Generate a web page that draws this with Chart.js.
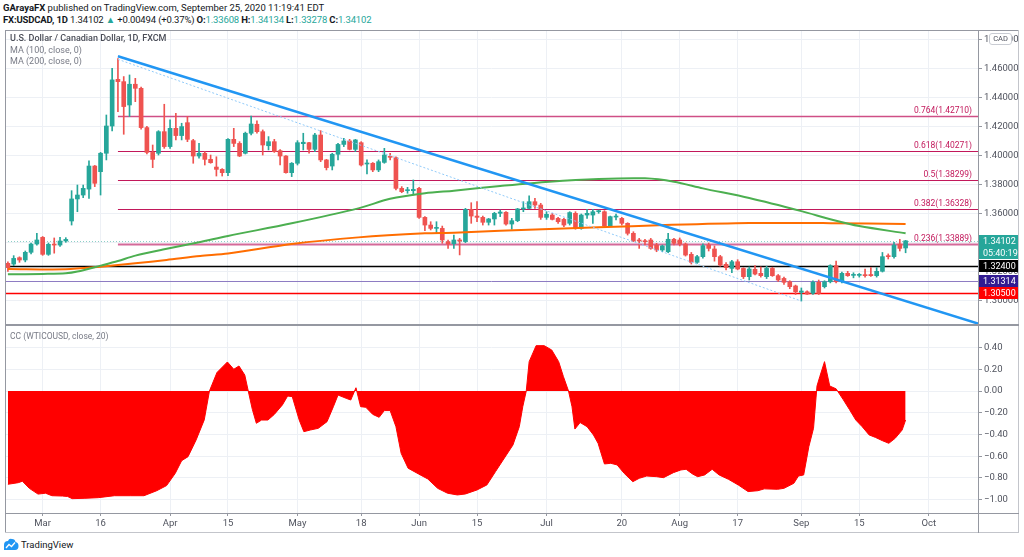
<!DOCTYPE html>
<html>
<head>
<meta charset="utf-8">
<script src="https://cdn.jsdelivr.net/npm/chart.js@4.4.0/dist/chart.umd.min.js"></script>
<style>
  body { margin: 0; background: #fff; width: 1024px; height: 557px; overflow: hidden; position: relative; font-family: Roboto, "Noto Sans", sans-serif; }
  .abs { position: absolute; white-space: nowrap; }
  .ln { position: absolute; background: #9598a1; pointer-events: none; }
  .hdr { font-size: 9.5px; color: #131722; left: 3px; }
  .teal { color: #26a69a; }
  .leg { left: 10px; font-size: 9px; color: #787b86; }
</style>
</head>
<body>
<div class="abs hdr" style="top:2px"><b>GArayaFX</b> published on TradingView.com, September 25, 2020 11:19:41 EDT</div>
<div class="abs hdr" style="top:14px;letter-spacing:-0.15px"><b>FX:USDCAD, 1D</b> 1.34102 <span class="teal">&#9650;</span> +0.00494 (+0.37%) <b>O:</b><span class="teal">1.33608</span> <b>H:</b><span class="teal">1.34134</span> <b>L:</b><span class="teal">1.33278</span> <b>C:</b><span class="teal">1.34102</span></div>

<canvas id="price" class="abs" style="left:5px;top:30px" width="1014" height="295"></canvas>
<canvas id="cc" class="abs" style="left:5px;top:325px" width="1014" height="208"></canvas>

<div class="abs leg" style="top:33px;color:#4a4d57;font-weight:500">U.S. Dollar / Canadian Dollar, 1D, FXCM</div>
<div class="abs leg" style="top:45px">MA (100, close, 0)</div>
<div class="abs leg" style="top:56px">MA (200, close, 0)</div>
<div class="abs leg" style="top:331px;font-size:8.5px">CC (WTICOUSD, close, 20)</div>
<div class="abs" style="left:989px;top:33px;width:21px;height:10px;border:1px solid #c9ccd3;border-radius:3px;background:#fff;font-size:7.5px;line-height:10px;text-align:center;color:#50535e">CAD</div>

<div class="ln" style="left:5px;top:30px;width:1014px;height:1px"></div>
<div class="ln" style="left:5px;top:30px;width:1px;height:503px"></div>
<div class="ln" style="left:1018px;top:30px;width:1px;height:503px;background:#c3c5cb"></div>
<div class="ln" style="left:5px;top:324px;width:1014px;height:2px"></div>
<div class="ln" style="left:5px;top:513px;width:1014px;height:1px"></div>
<div class="ln" style="left:5px;top:532px;width:1014px;height:1px;background:#c3c5cb"></div>
<div class="ln" style="left:978px;top:30px;width:1px;height:503px"></div>

<svg class="abs" style="left:3px;top:538px" width="16" height="13" viewBox="0 0 16 13">
  <path d="M1 12 L1 7 Q1 3 5 3 Q6 0 9 1 Q12 1 12.5 4 Q15.5 4.5 15.5 8 Q15.5 12 12 12 Z" fill="#2196f3"/>
  <path d="M3 10 L6 6.5 L8.5 8.5 L12 4.5" stroke="#fff" stroke-width="1.3" fill="none"/>
</svg>
<div class="abs" style="left:21px;top:539px;font-size:9.5px;color:#131722">TradingView</div>

<script>
// daily candles, first bar is index -6 (Feb 21), index 0 = Mar 2, last = Sep 25
const firstIndex = -6;
const openP = [
  1.3255,1.3250,1.3294,1.3278,1.3331,1.3388,1.3434,1.3317,1.3388,1.3381,
  1.3409,1.3547,1.3699,1.3726,1.3767,1.3926,1.3887,1.4014,1.4202,1.4524,
  1.4508,1.4347,1.4490,1.4462,1.4191,1.4020,1.4014,1.4163,1.4060,1.4186,
  1.4136,1.4225,1.4101,1.3995,1.4014,1.3972,1.3919,1.3903,1.3880,1.4110,
  1.4082,1.4014,1.4152,1.4214,1.4163,1.4066,1.4094,1.4032,1.3995,1.3880,
  1.3945,1.4080,1.4087,1.4041,1.4140,1.3968,1.3926,1.4007,1.4075,1.4099,
  1.4041,1.4087,1.3940,1.3945,1.3899,1.3951,1.3991,1.3984,1.3772,1.3756,
  1.3756,1.3772,1.3572,1.3519,1.3496,1.3496,1.3404,1.3390,1.3416,1.3405,
  1.3627,1.3581,1.3572,1.3538,1.3561,1.3600,1.3607,1.3526,1.3549,1.3630,
  1.3634,1.3680,1.3657,1.3572,1.3588,1.3565,1.3558,1.3531,1.3600,1.3496,
  1.3588,1.3588,1.3611,1.3611,1.3513,1.3574,1.3565,1.3531,1.3462,1.3416,
  1.3411,1.3416,1.3381,1.3347,1.3335,1.3421,1.3416,1.3388,1.3317,1.3262,
  1.3301,1.3381,1.3354,1.3301,1.3248,1.3220,1.3266,1.3220,1.3163,1.3214,
  1.3186,1.3163,1.3220,1.3170,1.3151,1.3128,1.3099,1.3055,1.3059,1.3048,
  1.3124,1.3094,1.3128,1.3239,1.3128,1.3186,1.3172,1.3172,1.3176,1.3178,
  1.3170,1.3200,1.3305,1.3301,1.3388,1.33608
];
const highP = [
  1.3266,1.3308,1.3300,1.3340,1.3395,1.3462,1.3440,1.3395,1.3430,1.3434,
  1.3432,1.3756,1.3795,1.3795,1.3961,1.3930,1.4020,1.4278,1.4600,1.4667,
  1.4543,1.4554,1.4531,1.4470,1.4200,1.4071,1.4170,1.4352,1.4244,1.4290,
  1.4221,1.4267,1.4110,1.4083,1.4025,1.4002,1.3990,1.3908,1.4115,1.4186,
  1.4094,1.4160,1.4271,1.4237,1.4175,1.4129,1.4110,1.4040,1.3998,1.3950,
  1.4101,1.4152,1.4090,1.4152,1.4170,1.3972,1.4014,1.4083,1.4117,1.4110,
  1.4110,1.4094,1.3968,1.3950,1.3968,1.4048,1.4014,1.3990,1.3784,1.3779,
  1.3830,1.3779,1.3577,1.3542,1.3542,1.3512,1.3416,1.3450,1.3427,1.3634,
  1.3673,1.3680,1.3581,1.3565,1.3607,1.3623,1.3612,1.3565,1.3634,1.3680,
  1.3720,1.3703,1.3669,1.3611,1.3600,1.3572,1.3565,1.3611,1.3611,1.3595,
  1.3627,1.3627,1.3623,1.3618,1.3581,1.3595,1.3572,1.3535,1.3473,1.3427,
  1.3420,1.3427,1.3393,1.3381,1.3462,1.3427,1.3430,1.3395,1.3330,1.3310,
  1.3390,1.3395,1.3375,1.3310,1.3260,1.3275,1.3280,1.3225,1.3230,1.3240,
  1.3230,1.3235,1.3228,1.3178,1.3160,1.3135,1.3105,1.3085,1.3065,1.3135,
  1.3140,1.3135,1.3245,1.3270,1.3195,1.3200,1.3190,1.3185,1.3215,1.3225,
  1.3225,1.3330,1.3320,1.3400,1.3420,1.34134
];
const lowP = [
  1.3200,1.3239,1.3262,1.3265,1.3320,1.3380,1.3310,1.3310,1.3325,1.3372,
  1.3400,1.3519,1.3611,1.3708,1.3703,1.3784,1.3726,1.3968,1.4168,1.4301,
  1.4145,1.4267,1.4370,1.4180,1.4010,1.3915,1.4002,1.4048,1.4048,1.4106,
  1.4106,1.4094,1.3945,1.3980,1.3933,1.3945,1.3857,1.3857,1.3860,1.4060,
  1.3991,1.4009,1.4140,1.4152,1.4002,1.4037,1.4020,1.3933,1.3876,1.3853,
  1.3933,1.4037,1.4014,1.4025,1.3956,1.3899,1.3899,1.3968,1.4060,1.4037,
  1.4025,1.3926,1.3871,1.3887,1.3887,1.3945,1.3968,1.3761,1.3742,1.3738,
  1.3726,1.3565,1.3480,1.3485,1.3462,1.3393,1.3358,1.3358,1.3313,1.3398,
  1.3531,1.3542,1.3519,1.3519,1.3519,1.3577,1.3519,1.3490,1.3542,1.3611,
  1.3630,1.3634,1.3558,1.3558,1.3554,1.3531,1.3508,1.3519,1.3490,1.3490,
  1.3565,1.3531,1.3600,1.3508,1.3508,1.3554,1.3519,1.3450,1.3405,1.3358,
  1.3382,1.3352,1.3335,1.3335,1.3329,1.3382,1.3375,1.3305,1.3250,1.3255,
  1.3290,1.3340,1.3270,1.3235,1.3210,1.3190,1.3210,1.3150,1.3140,1.3175,
  1.3160,1.3150,1.3165,1.3130,1.3110,1.3080,1.3040,1.2995,1.3040,1.3040,
  1.3040,1.3085,1.3120,1.3120,1.3120,1.3165,1.3155,1.3160,1.3160,1.3165,
  1.3160,1.3195,1.3285,1.3290,1.3340,1.33278
];
const closeP = [
  1.3225,1.3289,1.3278,1.3331,1.3388,1.3416,1.3317,1.3386,1.3381,1.3409,
  1.3420,1.3699,1.3726,1.3772,1.3926,1.3807,1.4014,1.4202,1.4520,1.4508,
  1.4336,1.4490,1.4462,1.4191,1.4020,1.3972,1.4163,1.4060,1.4186,1.4136,
  1.4198,1.4110,1.3995,1.4014,1.3972,1.3949,1.3903,1.3880,1.4110,1.4082,
  1.3995,1.4152,1.4216,1.4163,1.4071,1.4094,1.4025,1.3995,1.3880,1.3945,
  1.4087,1.4090,1.4041,1.4140,1.3968,1.3915,1.4007,1.4075,1.4099,1.4041,
  1.4106,1.3933,1.3945,1.3899,1.3956,1.4002,1.3986,1.3772,1.3749,1.3761,
  1.3765,1.3572,1.3519,1.3496,1.3501,1.3416,1.3388,1.3416,1.3409,1.3627,
  1.3581,1.3572,1.3538,1.3561,1.3600,1.3609,1.3526,1.3549,1.3630,1.3634,
  1.3680,1.3657,1.3572,1.3593,1.3558,1.3542,1.3519,1.3605,1.3496,1.3588,
  1.3600,1.3611,1.3616,1.3513,1.3577,1.3577,1.3531,1.3462,1.3409,1.3409,
  1.3404,1.3358,1.3347,1.3375,1.3421,1.3393,1.3388,1.3312,1.3262,1.3301,
  1.3377,1.3358,1.3301,1.3243,1.3225,1.3266,1.3216,1.3163,1.3216,1.3181,
  1.3170,1.3220,1.3170,1.3140,1.3124,1.3094,1.3059,1.3064,1.3043,1.3124,
  1.3048,1.3128,1.3239,1.3128,1.3186,1.3170,1.3176,1.3176,1.3170,1.3170,
  1.3200,1.3301,1.3301,1.3381,1.3358,1.34102
];

// moving averages (bar index, value)
const ma100X = [-6, 0, 4, 6, 10, 13, 16, 21, 27, 32, 43, 54.5, 60, 66, 71, 79, 87.5, 96, 104, 109, 114, 122, 131, 136.5, 141, 149];
const ma100Y = [1.3179, 1.3182, 1.3186, 1.3198, 1.3239, 1.3271, 1.3308, 1.3352, 1.3400, 1.3444, 1.3531, 1.3634, 1.3700, 1.3738, 1.3756, 1.3788, 1.3818, 1.3837, 1.3841, 1.3818, 1.3772, 1.3705, 1.3615, 1.3554, 1.3512, 1.3462];
const ma200X = [-6, 4, 10, 16, 21.4, 27.2, 32, 43, 54.5, 66, 71, 79, 96, 107.5, 122, 136, 149];
const ma200Y = [1.3216, 1.3214, 1.3232, 1.3255, 1.3278, 1.3305, 1.3322, 1.3388, 1.3434, 1.3462, 1.3466, 1.3480, 1.3503, 1.3519, 1.3533, 1.3532, 1.3526];

// drawings
const trendX = [13, 161.5];
const trendY = [1.4683, 1.2840];
const trend2X = [13, 131];
const trend2Y = [1.4662, 1.2995];
const fibStart = 13;
const fibRatios = ['0.764', '0.618', '0.5', '0.382', '0.236'];
const fibValues = [1.42710, 1.40271, 1.38299, 1.36328, 1.33889];
const levelValues = [1.32400, 1.31314, 1.30500];
const lastPrice = 1.34102;
const countdown = '05:40:19';

// oscillator CC (WTICOUSD, close, 20)
const ccX = [-6,-4.2,-3.5,-2.3,-0.8,0.5,1.6,3.4,4.3,5.1,7.3,9.6,12.4,15.2,17.5,19.7,21.4,22.9,24,25.1,
  26.5,27.9,28.8,30.1,31.9,33,33.9,34.9,35.5,36.2,36.9,37.8,38.9,40,41.4,42.3,43.1,44.3,45.1,46.2,
  47.6,49.1,50.2,51,52.4,53.2,54.1,54.9,55.8,57,58.1,59,60,61,61.9,63.1,64.9,66.5,68.2,69.9,
  71.6,73,75,76.7,78.2,79.5,81.2,82.3,82.9,83.5,84,85.2,86.6,87.9,89.1,89.9,90.8,91.4,91.9,92.8,
  94,95.1,95.9,97,98.1,99.2,100.4,101.9,103,104.3,106,107.2,108.9,110.2,111.1,112.2,113.1,114.3,115.6,116.8,
  118.4,120.1,121.8,123.5,124.6,126.9,128,129.7,130.5,131.4,132.3,133.1,133.7,134.2,135,135.9,137,138.2,139.3,140.4,
  141.5,142.7,143.8,145,146.1,147.2,148.4,149];
const ccY = [-0.858,-0.843,-0.83,-0.895,-0.948,-0.94,-0.963,-0.966,-0.97,-0.99,-0.987,-0.981,-0.963,-0.963,-0.963,-0.917,-0.87,-0.757,-0.641,-0.604,
  -0.45,-0.266,0.0,0.17,0.267,0.2,0.23,0.147,0.0,-0.168,-0.297,-0.267,-0.267,-0.215,-0.128,-0.046,-0.052,-0.267,-0.374,-0.359,
  -0.343,-0.282,-0.144,-0.037,-0.067,-0.083,0.03,-0.144,-0.15,-0.215,-0.242,-0.18,-0.18,-0.328,-0.573,-0.71,-0.763,-0.809,-0.895,-0.94,
  -0.956,-0.947,-0.91,-0.864,-0.741,-0.635,-0.497,-0.328,-0.144,0.0,0.27,0.417,0.417,0.377,0.27,0.135,0.0,-0.144,-0.35,-0.29,
  -0.328,-0.404,-0.481,-0.671,-0.665,-0.68,-0.757,-0.834,-0.803,-0.782,-0.788,-0.797,-0.751,-0.726,-0.72,-0.763,-0.788,-0.772,-0.72,-0.772,
  -0.812,-0.864,-0.925,-0.917,-0.9,-0.904,-0.895,-0.849,-0.782,-0.772,-0.51,-0.343,0.046,0.135,0.27,0.046,0.02,-0.077,-0.17,-0.267,
  -0.328,-0.404,-0.427,-0.457,-0.481,-0.435,-0.359,-0.267];

// axes
const tickIdx = [0, 10, 22, 32, 44, 55, 65, 75, 87, 100, 110, 120, 131, 141, 153];
const tickLabels = ['Mar', '16', 'Apr', '15', 'May', '18', 'Jun', '15', 'Jul', '20', 'Aug', '17', 'Sep', '15', 'Oct'];
const priceTicks = [1.30, 1.32, 1.34, 1.36, 1.38, 1.40, 1.42, 1.44, 1.46, 1.48];
const ccTicks = [0.4, 0.2, 0, -0.2, -0.4, -0.6, -0.8, -1.0];

const UP = '#26a69a', DOWN = '#ef5350';
const GRID = '#edf0f5';
const FONT = 'Roboto';
const AXIS_W = 41;

const idx = closeP.map((_, k) => firstIndex + k);
const candleColor = closeP.map((c, k) => c >= openP[k] ? UP : DOWN);
const pts = (xs, ys) => xs.map((x, k) => ({ x: x, y: ys[k] }));

function hline(ctx, x1, x2, y) {
  const py = Math.round(y) + 0.5;
  ctx.beginPath(); ctx.moveTo(x1, py); ctx.lineTo(x2, py); ctx.stroke();
}

// keep the plot area flush with the canvas edges
function noPad(s) {
  s.paddingTop = 0; s.paddingBottom = 0; s.paddingLeft = 0; s.paddingRight = 0;
}

function xScale(showTicks) {
  return {
    type: 'linear', min: -6.5, max: 161.5, offset: false,
    afterBuildTicks: s => { s.ticks = tickIdx.map(v => ({ value: v })); },
    ticks: { display: showTicks, padding: 2, color: '#50535e', font: { family: FONT, size: 9.5 },
      callback: v => tickLabels[tickIdx.indexOf(v)] },
    grid: { color: GRID, offset: false, drawTicks: showTicks, tickLength: 3, tickColor: '#9598a1' },
    border: { display: false },
    afterFit: s => { s.height = showTicks ? 20 : 0; noPad(s); }
  };
}

const levelColors = ['#000000', '#8e7cc3', '#ff0000'];
const levelWidths = [1.5, 1, 1.5];
const fibColors = ['#cf4f86', '#c2185b', '#c2185b', '#c2185b', '#d46a9a'];
const fibWidths = [1.5, 1.2, 1.2, 1.2, 2];

const pricePlugin = {
  id: 'priceOverlay',
  beforeDatasetsDraw(chart) {
    const { ctx, chartArea: a, scales: { x, y } } = chart;
    ctx.save();
    ctx.strokeStyle = '#8ccfc7'; ctx.lineWidth = 1; ctx.setLineDash([1, 2]);
    hline(ctx, a.left, a.right, y.getPixelForValue(lastPrice));
    ctx.setLineDash([]);
    levelValues.forEach((v, k) => {
      ctx.strokeStyle = levelColors[k]; ctx.lineWidth = levelWidths[k];
      hline(ctx, a.left, a.right, y.getPixelForValue(v));
    });
    const fx = x.getPixelForValue(fibStart);
    fibValues.forEach((v, k) => {
      ctx.strokeStyle = fibColors[k]; ctx.lineWidth = fibWidths[k];
      hline(ctx, fx, a.right, y.getPixelForValue(v));
    });
    ctx.restore();
  },
  afterDatasetsDraw(chart) {
    const { ctx, chartArea: a, scales: { y } } = chart;
    ctx.save();
    ctx.font = '8.5px ' + FONT;
    ctx.textAlign = 'right'; ctx.textBaseline = 'alphabetic';
    fibValues.forEach((v, k) => {
      ctx.fillStyle = '#c2185b';
      ctx.fillText(fibRatios[k] + '(' + v.toFixed(5) + ')', a.right - 6, y.getPixelForValue(v) - 3);
    });
    ctx.restore();
  },
  afterDraw(chart) {
    const { ctx, scales: { y } } = chart;
    const boxes = [
      { v: lastPrice, bg: UP, off: 0, text: lastPrice.toFixed(5) },
      { v: lastPrice, bg: UP, off: 12, text: countdown },
      { v: levelValues[0], bg: '#000000', off: 0, text: levelValues[0].toFixed(5) },
      { v: levelValues[1], bg: '#311b92', off: 0, text: levelValues[1].toFixed(5) },
      { v: levelValues[2], bg: '#ff0000', off: 0, text: levelValues[2].toFixed(5) }
    ];
    ctx.save();
    ctx.font = '9px ' + FONT; ctx.textBaseline = 'middle'; ctx.textAlign = 'left';
    boxes.forEach(b => {
      const cy = Math.round(y.getPixelForValue(b.v)) + b.off;
      ctx.fillStyle = b.bg;
      ctx.fillRect(y.left + 1, cy - 6, 39, 12);
      ctx.fillStyle = '#ffffff';
      ctx.fillText(b.text, y.left + 5, cy + 0.5);
    });
    ctx.restore();
  }
};

new Chart(document.getElementById('price'), {
  type: 'bar',
  data: {
    datasets: [
      { type: 'line', data: pts(trendX, trendY), borderColor: '#2196f3', borderWidth: 2.5, pointRadius: 0, order: 0 },
      { type: 'line', data: pts(trend2X, trend2Y), borderColor: '#90caf9', borderWidth: 1, borderDash: [2, 2], pointRadius: 0, order: 1 },
      { type: 'line', data: pts(ma100X, ma100Y), borderColor: '#4caf50', borderWidth: 2, pointRadius: 0, tension: 0.3, order: 2 },
      { type: 'line', data: pts(ma200X, ma200Y), borderColor: '#ff6d00', borderWidth: 2, pointRadius: 0, tension: 0.3, order: 2 },
      { type: 'bar', data: idx.map((x, k) => ({ x: x, y: [Math.min(openP[k], closeP[k]), Math.max(openP[k], closeP[k])] })),
        backgroundColor: candleColor, barThickness: 4, minBarLength: 1, grouped: false, order: 4 },
      { type: 'bar', data: idx.map((x, k) => ({ x: x, y: [lowP[k], highP[k]] })),
        backgroundColor: candleColor, barThickness: 1, grouped: false, order: 5 }
    ]
  },
  options: {
    responsive: false, animation: false, events: [],
    layout: { padding: 0 },
    plugins: { legend: { display: false }, tooltip: { enabled: false } },
    scales: {
      x: xScale(false),
      y: {
        position: 'right', min: 1.28297, max: 1.48641, beginAtZero: false,
        afterBuildTicks: s => { s.ticks = priceTicks.map(v => ({ value: v })); },
        ticks: { padding: 2, color: '#50535e', font: { family: FONT, size: 9.5 }, callback: v => v.toFixed(5) },
        grid: { color: GRID, tickLength: 4, tickColor: '#9598a1' },
        border: { display: false },
        afterFit: s => { s.width = AXIS_W; noPad(s); }
      }
    }
  },
  plugins: [pricePlugin]
});

new Chart(document.getElementById('cc'), {
  type: 'line',
  data: {
    datasets: [
      { data: pts(ccX, ccY), borderColor: '#ff0000', backgroundColor: '#ff0000', borderWidth: 1, pointRadius: 0, fill: 'origin' }
    ]
  },
  options: {
    responsive: false, animation: false, events: [],
    layout: { padding: 0 },
    plugins: { legend: { display: false }, tooltip: { enabled: false } },
    scales: {
      x: xScale(true),
      y: {
        position: 'right', min: -1.122, max: 0.607,
        afterBuildTicks: s => { s.ticks = ccTicks.map(v => ({ value: v })); },
        ticks: { padding: 2, color: '#50535e', font: { family: FONT, size: 9.5 },
          callback: v => (v < 0 ? '\u2212' : '') + Math.abs(v).toFixed(2) },
        grid: { color: GRID, tickLength: 4, tickColor: '#9598a1' },
        border: { display: false },
        afterFit: s => { s.width = AXIS_W; noPad(s); }
      }
    }
  }
});
</script>
</body>
</html>
